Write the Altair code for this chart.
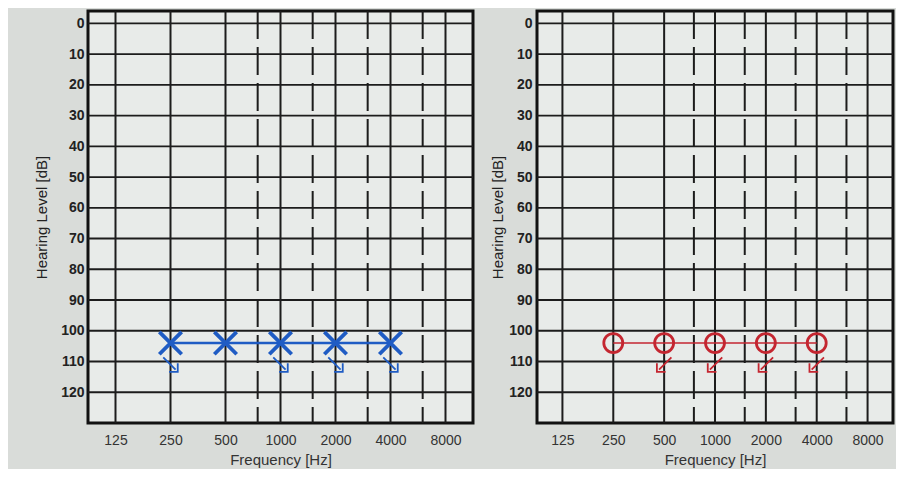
import altair as alt
import pandas as pd

# ---- data ----
octave_freqs = [125, 250, 500, 1000, 2000, 4000, 8000]
half_octave_freqs = [750, 1500, 3000, 6000]
level_lines = [0, 10, 20, 30, 40, 50, 60, 70, 80, 90, 100, 110, 120]

test_freqs = [250, 500, 1000, 2000, 4000]
left_levels = [104, 104, 104, 104, 104]     # blue X (left ear)
right_levels = [104, 104, 104, 104, 104]    # red O (right ear)

left_arrow_freqs = [250, 1000, 2000, 4000]
left_arrow_levels = [111, 111, 111, 111]
right_arrow_freqs = [500, 1000, 2000, 4000]
right_arrow_levels = [111, 111, 111, 111]

FREQ_DOMAIN = [88.39, 11313.7]
DB_DOMAIN = [-4, 130]

BLUE = "#1f5cc4"
RED = "#c42630"
GRID = "#1c1c1c"
FONT = "Liberation Sans"

X_SHAPE = "M-1,-1L1,1M-1,1L1,-1"
ARROW_DR = "M-1,-1L0.7,0.7M1,-0.2L1,1L-0.2,1"
ARROW_DL = "M1,-1L-0.7,0.7M-1,-0.2L-1,1L0.2,1"


def xenc():
    return alt.X(
        "freq:Q",
        scale=alt.Scale(type="log", base=2, domain=FREQ_DOMAIN, nice=False),
        axis=alt.Axis(
            values=octave_freqs, format="d", title="Frequency [Hz]",
            grid=False, ticks=False, domain=False, labelFlush=False,
            labelOverlap=False, labelPadding=10, labelFontSize=14,
            labelColor="#333333", titleFontSize=15, titleFontWeight="normal",
            titleColor="#333333", titlePadding=5, labelFont=FONT, titleFont=FONT,
        ),
    )


def yenc(title_pad, label_pad):
    return alt.Y(
        "db:Q",
        scale=alt.Scale(domain=DB_DOMAIN, reverse=True, nice=False, zero=False),
        axis=alt.Axis(
            values=level_lines, title="Hearing Level [dB]",
            grid=False, ticks=False, domain=False, labelOverlap=False,
            labelPadding=label_pad, labelFontSize=14, labelFontWeight="bold",
            labelColor="#222222", titleFontSize=15, titleFontWeight="normal",
            titleColor="#222222", titlePadding=title_pad, labelFont=FONT, titleFont=FONT,
        ),
    )


def panel(width, levels, arrow_freqs, arrow_levels, color, sym_shape, sym_size,
          sym_stroke, line_w, arrow_shape, title_pad, label_pad):
    hdf = pd.DataFrame({"db": level_lines})
    odf = pd.DataFrame({"freq": octave_freqs})
    hodf = pd.DataFrame({"freq": half_octave_freqs})
    sdf = pd.DataFrame({"freq": test_freqs, "db": levels})
    adf = pd.DataFrame({"freq": arrow_freqs, "db": arrow_levels})

    y = yenc(title_pad, label_pad)
    x = xenc()

    hrules = alt.Chart(hdf).mark_rule(color=GRID, strokeWidth=1.8).encode(y=y)
    orules = alt.Chart(odf).mark_rule(color=GRID, strokeWidth=2).encode(x=x)
    hrules2 = alt.Chart(hodf).mark_rule(color=GRID, strokeWidth=2, strokeDash=[28, 8]).encode(x=x)
    line = alt.Chart(sdf).mark_line(color=color, strokeWidth=line_w).encode(x=x, y=y)
    pts = alt.Chart(sdf).mark_point(
        shape=sym_shape, size=sym_size, filled=False, color=color,
        strokeWidth=sym_stroke, opacity=1,
    ).encode(x=x, y=y)
    arrows = alt.Chart(adf).mark_point(
        shape=arrow_shape, size=210, filled=False, color=color,
        strokeWidth=1.8, opacity=1,
    ).encode(x=x, y=y)
    return alt.layer(hrules, orules, hrules2, line, pts, arrows).properties(
        width=width, height=412
    )


left = panel(385, left_levels, left_arrow_freqs, left_arrow_levels, BLUE,
             X_SHAPE, 500, 3.8, 2.5, ARROW_DR, 11, 4)
right = panel(356, right_levels, right_arrow_freqs, right_arrow_levels, RED,
              "circle", 360, 2.8, 1.5, ARROW_DL, 3, 5)

chart = (
    alt.hconcat(left, right, spacing=13)
    .properties(
        background="#d9dcd9",
        padding={"left": 25, "top": 0, "right": 0, "bottom": 0},
    )
    .configure_view(fill="#e8ebe9", stroke="#111111", strokeWidth=3)
)

chart.save("out.html", embed_options={"renderer": "svg", "actions": False})
